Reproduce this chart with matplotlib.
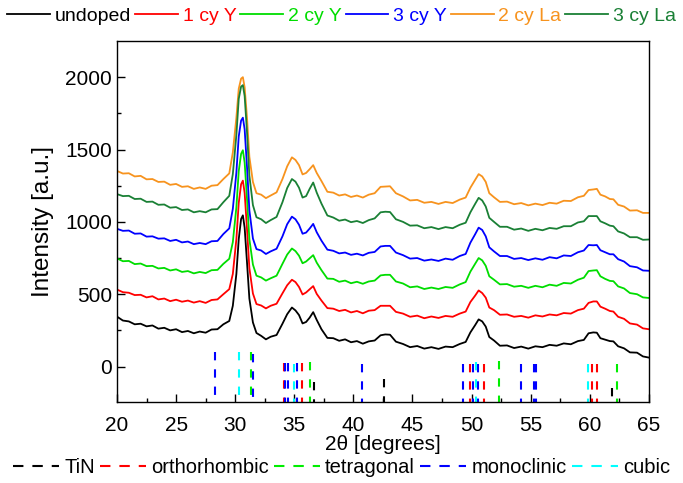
import matplotlib.pyplot as plt
from matplotlib.lines import Line2D

plt.rcParams['font.family'] = ['Liberation Sans', 'DejaVu Sans']

# 2theta grid shared by all patterns
two_theta = [20, 20.5, 21, 21.5, 22, 22.5, 23, 23.5, 24, 24.5,
             25, 25.5, 26, 26.5, 27, 27.5, 28, 28.5, 29, 29.5,
             29.8, 30.1, 30.3, 30.5, 30.65, 30.8, 31.0, 31.2, 31.5, 31.8,
             32.2, 32.6, 33.0, 33.5, 34.0, 34.4, 34.8, 35.1, 35.4, 35.7,
             36.0, 36.3, 36.6, 36.9, 37.3, 37.8, 38.3, 38.8, 39.3, 39.8,
             40.3, 40.8, 41.3, 41.8, 42.3, 42.7, 43.1, 43.6, 44.2, 44.8,
             45.4, 46.0, 46.6, 47.2, 47.8, 48.4, 49.0, 49.5, 49.9, 50.3,
             50.6, 50.9, 51.2, 51.5, 51.9, 52.4, 53.0, 53.6, 54.2, 54.8,
             55.4, 56.0, 56.6, 57.2, 57.8, 58.4, 59.0, 59.5, 59.9, 60.3,
             60.6, 60.9, 61.3, 61.7, 62.0, 62.4, 62.9, 63.4, 64.0, 64.5,
             65.0]

undoped = [345, 318, 312, 292, 296, 278, 284, 262, 268, 250,
           258, 238, 246, 230, 242, 234, 256, 258, 292, 315,
           420, 640, 880, 1020, 1045, 960, 720, 470, 305, 232,
           212, 188, 206, 218, 296, 362, 408, 388, 356, 298,
           308, 338, 376, 322, 258, 198, 196, 178, 188, 168,
           176, 158, 174, 180, 216, 222, 220, 172, 156, 134,
           142, 124, 134, 122, 138, 134, 156, 170, 236, 286,
           326, 312, 276, 204, 180, 144, 146, 128, 138, 124,
           140, 134, 150, 144, 160, 154, 176, 184, 230, 236,
           234, 196, 186, 176, 174, 140, 126, 98, 96, 70,
           62]

cy1_Y = [532, 514, 510, 494, 496, 478, 486, 464, 470, 452,
         462, 448, 456, 442, 452, 440, 460, 464, 500, 535,
         640, 880, 1130, 1260, 1285, 1200, 950, 680, 505, 432,
         422, 402, 420, 434, 506, 562, 600, 584, 550, 498,
         512, 534, 556, 502, 456, 404, 400, 384, 392, 374,
         384, 368, 386, 390, 420, 420, 420, 378, 366, 344,
         352, 334, 346, 336, 350, 344, 366, 380, 446, 490,
         526, 508, 476, 408, 390, 358, 360, 344, 350, 338,
         354, 346, 360, 354, 370, 366, 390, 400, 440, 450,
         450, 414, 400, 384, 380, 344, 330, 298, 290, 264,
         258]

cy2_Y = [748, 728, 730, 708, 712, 694, 696, 678, 682, 664,
         672, 654, 660, 644, 654, 646, 666, 668, 710, 745,
         860, 1100, 1350, 1470, 1495, 1410, 1160, 880, 705, 628,
         616, 594, 610, 628, 710, 774, 816, 798, 766, 714,
         726, 748, 770, 718, 666, 608, 606, 586, 594, 576,
         586, 572, 588, 594, 630, 634, 634, 588, 574, 548,
         554, 536, 546, 536, 550, 544, 568, 584, 656, 710,
         750, 734, 696, 624, 600, 568, 570, 552, 558, 544,
         558, 548, 566, 558, 578, 574, 600, 614, 660, 664,
         666, 624, 606, 592, 590, 554, 540, 508, 500, 478,
         474]

cy3_Y = [952, 938, 940, 918, 920, 898, 900, 884, 886, 868,
         876, 858, 864, 846, 854, 846, 866, 868, 916, 955,
         1090, 1340, 1590, 1700, 1720, 1640, 1380, 1080, 885, 812,
         802, 778, 796, 814, 900, 984, 1036, 1018, 980, 918,
         926, 954, 986, 928, 870, 808, 800, 782, 788, 772,
         780, 768, 786, 792, 830, 834, 834, 788, 770, 746,
         750, 732, 740, 730, 746, 738, 764, 778, 856, 914,
         960, 944, 900, 824, 796, 764, 764, 744, 750, 736,
         748, 738, 756, 748, 768, 764, 790, 802, 840, 838,
         840, 804, 790, 776, 776, 742, 726, 694, 686, 664,
         662]

cy2_La = [1352, 1334, 1336, 1314, 1318, 1294, 1296, 1276, 1278, 1256,
          1262, 1242, 1246, 1228, 1238, 1228, 1250, 1254, 1296, 1335,
          1480, 1720, 1920, 1990, 2000, 1930, 1720, 1450, 1276, 1198,
          1188, 1164, 1182, 1204, 1296, 1384, 1446, 1428, 1392, 1328,
          1338, 1364, 1392, 1338, 1282, 1208, 1202, 1182, 1190, 1172,
          1182, 1168, 1188, 1198, 1242, 1244, 1246, 1198, 1176, 1148,
          1152, 1132, 1138, 1124, 1138, 1130, 1154, 1168, 1236, 1290,
          1330, 1314, 1276, 1198, 1170, 1138, 1140, 1122, 1130, 1114,
          1126, 1116, 1132, 1126, 1146, 1144, 1170, 1180, 1220, 1224,
          1228, 1188, 1176, 1158, 1156, 1118, 1106, 1078, 1080, 1062,
          1062]

cy3_La = [1192, 1178, 1180, 1158, 1160, 1138, 1140, 1118, 1120, 1098,
          1102, 1082, 1086, 1066, 1074, 1066, 1086, 1088, 1136, 1180,
          1330, 1600, 1850, 1935, 1945, 1870, 1620, 1320, 1116, 1032,
          1018, 992, 1012, 1034, 1136, 1234, 1296, 1278, 1236, 1168,
          1178, 1228, 1272, 1202, 1126, 1044, 1030, 1008, 1016, 998,
          1006, 992, 1012, 1024, 1066, 1070, 1068, 1018, 1000, 974,
          976, 956, 964, 950, 964, 956, 980, 994, 1066, 1124,
          1166, 1148, 1106, 1028, 1000, 966, 966, 946, 954, 938,
          952, 942, 958, 952, 970, 970, 996, 1004, 1040, 1040,
          1040, 1004, 990, 974, 970, 934, 920, 894, 894, 876,
          878]

# reference reflection positions and the height their marks reach
tin_pos = [36.67, 42.6, 61.85]
tin_top = [-110, -85, -145]
ortho_pos = [34.1, 35.65, 49.9, 51.05, 60.2, 60.65]
ortho_top = [25, 25, 20, 15, 15, 15]
tetra_pos = [31.3, 36.35, 52.3, 62.3]
tetra_top = [100, 30, 35, 15]
mono_pos = [28.25, 31.47, 34.2, 34.45, 35.25, 40.75, 49.25, 50.08, 50.55,
            54.15, 55.3, 55.45]
mono_top = [100, 85, 25, 25, 25, 15, 15, 15, 15, 15, 15, 15]
cubic_pos = [30.3, 35.0, 50.35, 59.85]
cubic_top = [100, 20, 30, 20]

fig = plt.figure(figsize=(6.83, 4.83), dpi=100)
ax = fig.add_axes([0.1713, 0.1677, 0.7787, 0.7474])

series = [(undoped, 'black', 'undoped'),
          (cy1_Y, '#ff0000', '1 cy Y'),
          (cy2_Y, '#00dd00', '2 cy Y'),
          (cy3_Y, '#0000ff', '3 cy Y'),
          (cy2_La, '#f7931e', '2 cy La'),
          (cy3_La, '#1a8035', '3 cy La')]
for ys, c, lab in series:
    ax.plot(two_theta, ys, color=c, lw=1.3, label=lab)

ybot = -245
phases = [(tin_pos, tin_top, 'black', 'TiN'),
          (ortho_pos, ortho_top, '#ff0000', 'orthorhombic'),
          (tetra_pos, tetra_top, '#00ee00', 'tetragonal'),
          (mono_pos, mono_top, '#0000ff', 'monoclinic'),
          (cubic_pos, cubic_top, '#00ffff', 'cubic')]
ph_handles = []
for pos, top, c, lab in phases:
    for p, t in zip(pos, top):
        ax.plot([p, p], [t, ybot], color=c, lw=1.5,
                linestyle=(0, (4, 4.3)))
    ph_handles.append(Line2D([], [], color=c, lw=1.5,
                             linestyle=(0, (5, 4.3)), label=lab))

ax.set_xlim(20, 65)
ax.set_ylim(ybot, 2250)
ax.set_xticks(range(20, 66, 5))
ax.set_xticks([22.5 + 5 * i for i in range(9)], minor=True)
ax.set_yticks([0, 500, 1000, 1500, 2000])
ax.set_yticks([250, 750, 1250, 1750], minor=True)
ax.tick_params(direction='in', which='major', length=6, width=1, labelsize=15)
ax.tick_params(axis='x', which='major', pad=10)
ax.tick_params(direction='in', which='minor', length=3, width=1)
for s in ax.spines.values():
    s.set_linewidth(1)
ax.set_xlabel('2θ [degrees]', fontsize=15, labelpad=0)
ax.set_ylabel('Intensity [a.u.]', fontsize=17.5, labelpad=8)

leg1 = fig.legend(loc='center', bbox_to_anchor=(0.5, 0.967), ncol=6,
                  frameon=False, fontsize=14, handlelength=2.2,
                  handletextpad=0.25, columnspacing=0.2)
for t, (ys, c, lab) in zip(leg1.get_texts(), series):
    t.set_color(c)
fig.legend(handles=ph_handles, loc='center', bbox_to_anchor=(0.5, 0.033),
           ncol=5, frameon=False, fontsize=14.5, handlelength=2.3,
           handletextpad=0.25, columnspacing=0.25)

fig.savefig('out.png', dpi=100)
